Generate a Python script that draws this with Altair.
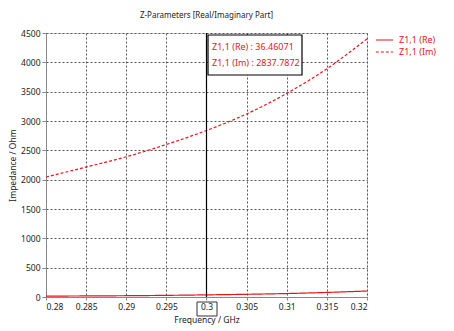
import altair as alt
import pandas as pd

freq = [0.28, 0.285, 0.29, 0.295, 0.30, 0.305, 0.31, 0.315, 0.32]
z_im = [2045, 2215, 2390, 2600, 2838, 3120, 3470, 3890, 4400]
z_re = [15, 18, 22, 28, 36.46, 46, 59, 78, 102]
series = ["Z1,1 (Re)", "Z1,1 (Im)"]
marker_freq = 0.3
marker_lines = ["Z1,1 (Re) : 36.46071", "Z1,1 (Im) : 2837.7872"]

rows = []
for f, r, i in zip(freq, z_re, z_im):
    rows.append({"f": f, "v": r, "s": series[0]})
    rows.append({"f": f, "v": i, "s": series[1]})
df = pd.DataFrame(rows)

RED = "#e8141c"
FONT = "Noto Sans"

xs = alt.Scale(domain=[0.28, 0.32], nice=False, zero=False)
ys = alt.Scale(domain=[0, 4500], nice=False)

lines = alt.Chart(df).mark_line(strokeWidth=1.2, interpolate="monotone", clip=True).encode(
    x=alt.X("f:Q", scale=xs, title="Frequency / GHz",
            axis=alt.Axis(values=freq, format=".3~f", gridDash=[2, 2], gridColor="#555",
                          domainColor="#888", tickColor="#888", tickSize=3,
                          labelFontSize=8.5, titleFontSize=8.5, titlePadding=5,
                          labelFont=FONT, titleFont=FONT, titleFontWeight="normal",
                          labelColor="#222", titleColor="#222")),
    y=alt.Y("v:Q", scale=ys, title="Impedance / Ohm",
            axis=alt.Axis(values=list(range(0, 4501, 500)), format="d", gridDash=[2, 2], gridColor="#555",
                          domainColor="#888", tickColor="#888", tickSize=4,
                          labelFontSize=8.5, titleFontSize=8.5,
                          titleX=-34, titleY=132, titleAngle=-90, titleAlign="center",
                          titleBaseline="middle",
                          labelFont=FONT, titleFont=FONT, titleFontWeight="normal",
                          labelColor="#222", titleColor="#222")),
    color=alt.Color("s:N", scale=alt.Scale(domain=series, range=[RED, RED]), title=None,
                    legend=alt.Legend(orient="none", legendX=329, legendY=1, symbolType="stroke",
                                      symbolSize=300, symbolStrokeWidth=1.2, labelColor=RED,
                                      labelFont=FONT, labelFontSize=9, rowPadding=0,
                                      clipHeight=12, labelOffset=5)),
    strokeDash=alt.StrokeDash("s:N", scale=alt.Scale(domain=series, range=[[1, 0], [3, 2]]),
                              legend=None),
)

cursor = alt.Chart(pd.DataFrame({"f": [marker_freq]})).mark_rule(color="black", strokeWidth=1.2).encode(
    x=alt.X("f:Q", scale=xs)
)

box = alt.Chart(pd.DataFrame({"a": [0]})).mark_rect(fill="white", stroke="black", strokeWidth=1.2).encode(
    x=alt.value(162), x2=alt.value(256), y=alt.value(2), y2=alt.value(42)
)
ann = alt.Chart(pd.DataFrame({"t": marker_lines, "k": [0, 1]})).mark_text(
    align="left", baseline="middle", color=RED, font=FONT, fontSize=9
).encode(
    x=alt.value(166),
    y=alt.Y("k:Q", scale=alt.Scale(domain=[0, 1], range=[14, 30]), axis=None),
    text="t:N"
)

lab_box = alt.Chart(pd.DataFrame({"a": [0]})).mark_rect(fill=None, stroke="#333", strokeWidth=1).encode(
    x=alt.value(151), x2=alt.value(171), y=alt.value(269), y2=alt.value(283)
)

chart = alt.layer(lines, cursor, box, ann, lab_box).resolve_scale(y="independent").properties(
    width=321, height=264,
    title=alt.TitleParams("Z-Parameters [Real/Imaginary Part]", font=FONT, fontSize=8,
                          fontWeight="normal", color="#222", offset=9),
    autosize=alt.AutoSizeParams(type="none"),
    padding={"left": 38, "top": 25, "right": 78, "bottom": 28},
).configure_view(stroke="#888", strokeWidth=1).configure(background="white")

chart.save("out.html", embed_options={"renderer": "svg", "actions": False})
